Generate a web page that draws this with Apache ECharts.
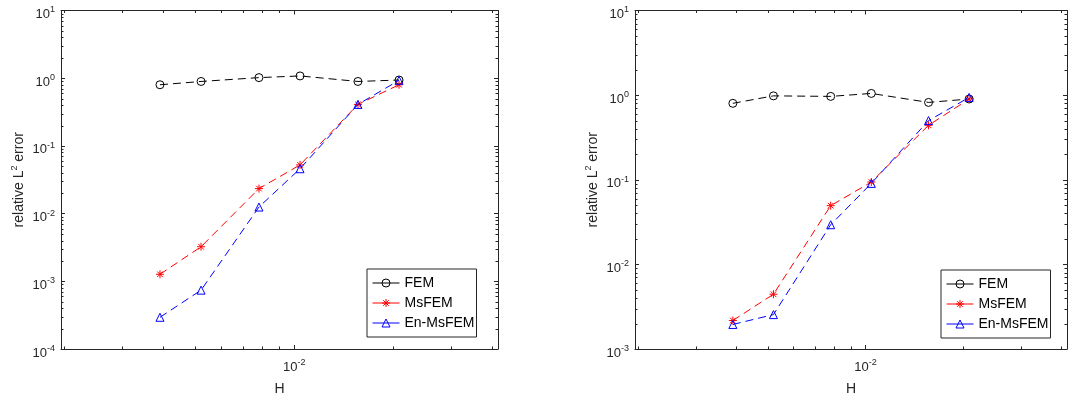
<!DOCTYPE html>
<html>
<head>
<meta charset="utf-8">
<script src="https://cdn.jsdelivr.net/npm/echarts@6/dist/echarts.min.js"></script>
<style>
html, body { margin: 0; padding: 0; background: #fff; }
#main { width: 1070px; height: 402px; }
</style>
</head>
<body>
<div id="main"></div>
<script>
/* mesh sizes H = 1/256 ... 1/48 */
var H = [1 / 256, 1 / 192, 1 / 128, 1 / 96, 1 / 64, 1 / 48];

/* left panel */
var femA = [0.80, 0.895, 1.02, 1.08, 0.895, 0.94];
var msfemA = [1.27e-3, 3.24e-3, 2.34e-2, 5.24e-2, 0.41, 0.80];
var enMsfemA = [2.94e-4, 7.4e-4, 1.25e-2, 4.6e-2, 0.41, 0.93];

/* right panel */
var femB = [0.80, 0.98, 0.966, 1.047, 0.82, 0.90];
var msfemB = [2.17e-3, 4.44e-3, 4.94e-2, 9.4e-2, 0.44, 0.90];
var enMsfemB = [1.95e-3, 2.55e-3, 2.94e-2, 9.06e-2, 0.50, 0.94];

var names = ['FEM', 'MsFEM', 'En-MsFEM'];

/* axis limits */
var xMin = 1 / 512, xMax = 1 / 24;
var yMinA = 1e-4, yMinB = 1e-3, yMax = 10;

/* minor tick positions (2..9 of each decade) */
function minorTicks(lo, hi) {
    var out = [];
    for (var d = lo; d < hi; d *= 10) {
        for (var k = 2; k <= 9; k++) {
            var v = k * d;
            if (v > lo * 0.999 && v < hi) out.push(v);
        }
    }
    return out;
}
var xMinor = minorTicks(1e-3, 1e-1).filter(function (v) { return v > xMin && v < xMax; });
var yMinorA = minorTicks(yMinA, yMax);
var yMinorB = minorTicks(yMinB, yMax);

var axisColor = '#262626';
var fontFam = '"Liberation Sans", Arial, Helvetica, sans-serif';
var minorLen = 2.5;

function expLabel(v) {
    var e = Math.log(v) / Math.LN10;
    if (Math.abs(e - Math.round(e)) > 1e-6) return '';
    return '{b|10}{s|' + Math.round(e) + '}';
}
var labelRich = {
    b: { fontSize: 13, lineHeight: 13, padding: [8, 0, 0, 0], color: axisColor, fontFamily: fontFam },
    s: { fontSize: 9, lineHeight: 10, padding: [0, 0, 1, 0], color: axisColor, fontFamily: fontFam }
};
var nameRich = {
    s: { fontSize: 9, lineHeight: 10, padding: [0, 0, 10, 0], color: axisColor, fontFamily: fontFam }
};

function mainX(grid) {
    return {
        type: 'log', logBase: 10, gridIndex: grid, min: xMin, max: xMax, position: 'bottom',
        name: 'H', nameLocation: 'middle', nameGap: 33,
        nameTextStyle: { fontSize: 14, color: axisColor, fontFamily: fontFam },
        axisLine: { show: true, lineStyle: { color: axisColor, width: 1 } },
        axisTick: { show: true, inside: true, length: 4, lineStyle: { color: axisColor } },
        axisLabel: { margin: 8, formatter: expLabel, rich: labelRich },
        splitLine: { show: false }
    };
}
function mirrorX(grid) {
    return {
        type: 'log', logBase: 10, gridIndex: grid, min: xMin, max: xMax, position: 'top',
        axisLine: { show: true, lineStyle: { color: axisColor, width: 1 } },
        axisTick: { show: true, inside: true, length: 4, lineStyle: { color: axisColor } },
        axisLabel: { show: false },
        splitLine: { show: false }
    };
}
function mainY(grid, lo) {
    return {
        type: 'log', logBase: 10, gridIndex: grid, min: lo, max: yMax, position: 'left',
        name: 'relative L{s|2} error', nameLocation: 'middle', nameGap: 33,
        nameTextStyle: { fontSize: 14, color: axisColor, fontFamily: fontFam, rich: nameRich },
        axisLine: { show: true, lineStyle: { color: axisColor, width: 1 } },
        axisTick: { show: true, inside: true, length: 4, lineStyle: { color: axisColor } },
        axisLabel: { margin: 6, formatter: expLabel, rich: labelRich },
        splitLine: { show: false }
    };
}
function mirrorY(grid, lo) {
    return {
        type: 'log', logBase: 10, gridIndex: grid, min: lo, max: yMax, position: 'right',
        axisLine: { show: true, lineStyle: { color: axisColor, width: 1 } },
        axisTick: { show: true, inside: true, length: 4, lineStyle: { color: axisColor } },
        axisLabel: { show: false },
        splitLine: { show: false }
    };
}

function pairs(xs, ys) {
    return xs.map(function (x, i) { return [x, ys[i]]; });
}

var starPath = 'path://M5 0L5 10M0 5L10 5M1.5 1.5L8.5 8.5M1.5 8.5L8.5 1.5';
var styles = [
    { color: '#000000', symbol: 'circle' },
    { color: '#ff0000', symbol: starPath },
    { color: '#0000ff', symbol: 'triangle' }
];

function lineSeries(k, axisIdx, ys) {
    var st = styles[k];
    return {
        name: names[k], type: 'line', xAxisIndex: axisIdx, yAxisIndex: axisIdx,
        data: pairs(H, ys),
        symbol: st.symbol, symbolSize: 8, showAllSymbol: true,
        lineStyle: { color: st.color, width: 1, type: [8, 5] },
        itemStyle: { color: 'transparent', borderColor: st.color, borderWidth: 1 },
        z: 3 + k
    };
}

function xMinorSeries(axisIdx, yLo) {
    return {
        type: 'custom', xAxisIndex: axisIdx, yAxisIndex: axisIdx, silent: true, z: 10,
        data: xMinor.map(function (v) { return [v, yLo]; }),
        renderItem: function (params, api) {
            var v = api.value(0);
            var a = api.coord([v, yLo]), b = api.coord([v, yMax]);
            var x = Math.round(a[0]) + 0.5;
            return { type: 'group', children: [
                { type: 'line', shape: { x1: x, y1: a[1], x2: x, y2: a[1] - minorLen }, style: { stroke: axisColor, lineWidth: 1 } },
                { type: 'line', shape: { x1: x, y1: b[1], x2: x, y2: b[1] + minorLen }, style: { stroke: axisColor, lineWidth: 1 } }
            ] };
        }
    };
}
function yMinorSeries(axisIdx, ticks) {
    return {
        type: 'custom', xAxisIndex: axisIdx, yAxisIndex: axisIdx, silent: true, z: 10,
        data: ticks.map(function (v) { return [xMin, v]; }),
        renderItem: function (params, api) {
            var v = api.value(1);
            var a = api.coord([xMin, v]), b = api.coord([xMax, v]);
            var y = Math.round(a[1]) + 0.5;
            return { type: 'group', children: [
                { type: 'line', shape: { x1: a[0], y1: y, x2: a[0] + minorLen, y2: y }, style: { stroke: axisColor, lineWidth: 1 } },
                { type: 'line', shape: { x1: b[0], y1: y, x2: b[0] - minorLen, y2: y }, style: { stroke: axisColor, lineWidth: 1 } }
            ] };
        }
    };
}

function legendAt(left, top) {
    return {
        orient: 'vertical', left: left, top: top,
        data: names,
        backgroundColor: '#fff', borderColor: axisColor, borderWidth: 1,
        padding: [6, 2, 6, 5],
        itemWidth: 27, itemHeight: 10, itemGap: 4,
        lineStyle: { type: 'solid', width: 1 },
        itemStyle: { color: 'transparent', borderWidth: 1 },
        textStyle: { fontSize: 14, lineHeight: 16, color: '#000', fontFamily: fontFam },
        selectedMode: false
    };
}

var option = {
    animation: false,
    backgroundColor: '#fff',
    textStyle: { fontFamily: fontFam },
    grid: [
        { left: 61, top: 5, width: 437, height: 344 },
        { left: 635, top: 5, width: 436, height: 344 }
    ],
    xAxis: [mainX(0), mirrorX(0), mainX(1), mirrorX(1)],
    yAxis: [mainY(0, yMinA), mirrorY(0, yMinA), mainY(1, yMinB), mirrorY(1, yMinB)],
    legend: [legendAt(367, 269), legendAt(941, 270)],
    series: [
        lineSeries(0, 0, femA),
        lineSeries(1, 0, msfemA),
        lineSeries(2, 0, enMsfemA),
        lineSeries(0, 2, femB),
        lineSeries(1, 2, msfemB),
        lineSeries(2, 2, enMsfemB),
        xMinorSeries(0, yMinA),
        yMinorSeries(0, yMinorA),
        xMinorSeries(2, yMinB),
        yMinorSeries(2, yMinorB)
    ]
};

var chart = echarts.init(document.getElementById('main'));
chart.setOption(option);
</script>
</body>
</html>
